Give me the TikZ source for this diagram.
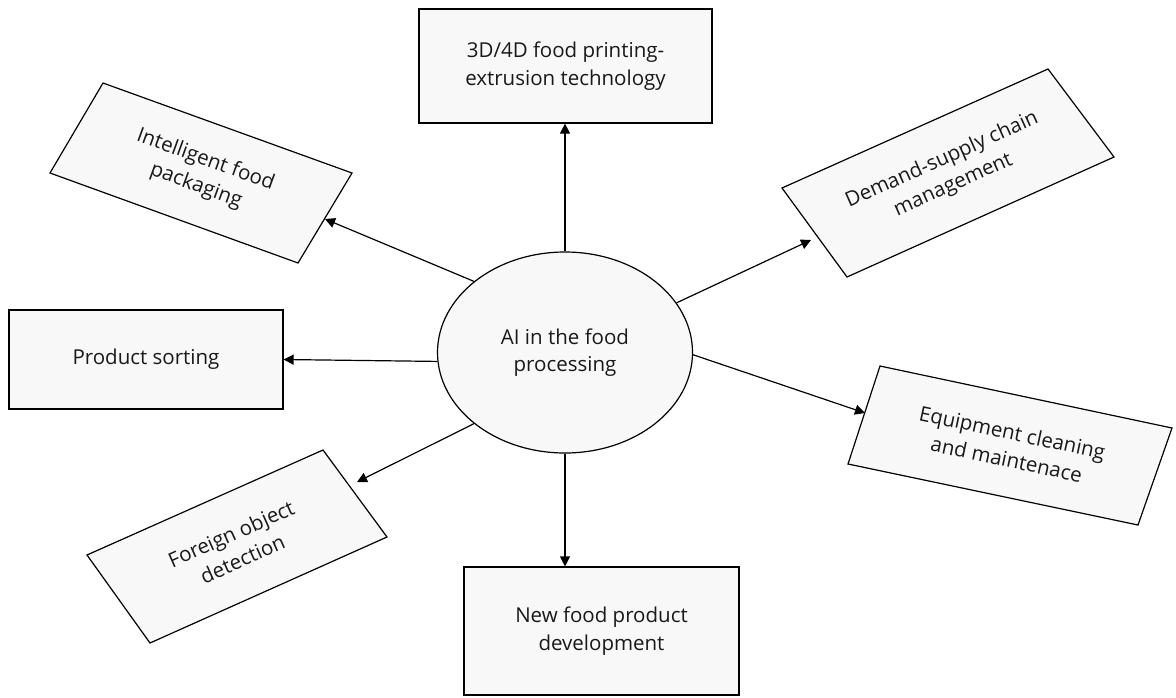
\documentclass[tikz,border=0pt]{standalone}
\usepackage{fontspec}
\setmainfont{Open Sans}
\usetikzlibrary{arrows.meta,shapes.geometric}
\definecolor{boxfill}{HTML}{F8F8F8}
\tikzset{
  lbl/.style={font=\fontsize{20.5}{27.5}\selectfont, align=center, text=black!90},
  rbox/.style={draw=black, line width=1.2pt, fill=boxfill, rectangle, inner sep=0pt, lbl},
  pbox/.style={draw=black, line width=1.2pt, fill=boxfill},
  arr/.style={draw=black, line width=1.2pt, -{Triangle[length=10pt,width=10pt]}},
}
\begin{document}
\begin{tikzpicture}[x=1pt,y=-1pt]
\useasboundingbox (0,0) rectangle (1176,697);
% straight boxes
\node[rbox, minimum width=293pt, minimum height=114pt] (top) at (565.5,66) {3D/4D food printing-\\extrusion technology};
\node[rbox, minimum width=275pt, minimum height=128pt] (bot) at (601.5,631) {New food product\\development};
\node[rbox, minimum width=274pt, minimum height=99pt] (sort) at (146,359.5) {Product sorting};
% parallelogram boxes
\coordinate (iTL) at (103,83); \coordinate (iTR) at (352,173);
\coordinate (iBR) at (298,263); \coordinate (iBL) at (50,173);
\draw[pbox] (iTL) -- (iTR) -- (iBR) -- (iBL) -- cycle;
\node[lbl, rotate=-20] (intel) at (200.75,173) {Intelligent food\\packaging};
\coordinate (dL) at (782,188); \coordinate (dT) at (1048,69);
\coordinate (dR) at (1114,157); \coordinate (dB) at (847,277);
\draw[pbox] (dL) -- (dT) -- (dR) -- (dB) -- cycle;
\node[lbl, rotate=24.1] (dem) at (947.75,172.75) {Demand-supply chain\\management};
\coordinate (eTL) at (880,366); \coordinate (eTR) at (1172,428);
\coordinate (eBR) at (1138,525); \coordinate (eBL) at (848,464);
\draw[pbox] (eTL) -- (eTR) -- (eBR) -- (eBL) -- cycle;
\node[lbl, rotate=-12] (equip) at (1009.5,445.75) {Equipment cleaning\\and maintenace};
\coordinate (fT) at (323,450); \coordinate (fR) at (387,537);
\coordinate (fB) at (150,643); \coordinate (fL) at (87,555);
\draw[pbox] (fT) -- (fR) -- (fB) -- (fL) -- cycle;
\node[lbl, rotate=24] (foreign) at (236.75,546.25) {Foreign object\\detection};
% hub
\node[ellipse, draw=black, line width=1.2pt, fill=boxfill, minimum width=255pt, minimum height=201pt, inner sep=0pt, lbl] (hub) at (565,352.5) {AI in the food\\processing};
% arrow tips
\coordinate (intelTip) at (325,219);
\coordinate (demTip) at (811,240);
\coordinate (equipTip) at (865,413);
\coordinate (forTip) at (357,482);
% arrows
\draw[arr] (hub.north) -- (hub.north |- top.south);
\draw[arr] (hub.south) -- (hub.south |- bot.north);
\draw[arr] (hub.184) -- (sort.east);
\draw[arr] (hub.142.4) -- (intelTip);
\draw[arr] (hub.24.2) -- (demTip);
\draw[arr] (hub.359.5) -- (equipTip);
\draw[arr] (hub.218.7) -- (forTip);
\end{tikzpicture}
\end{document}
